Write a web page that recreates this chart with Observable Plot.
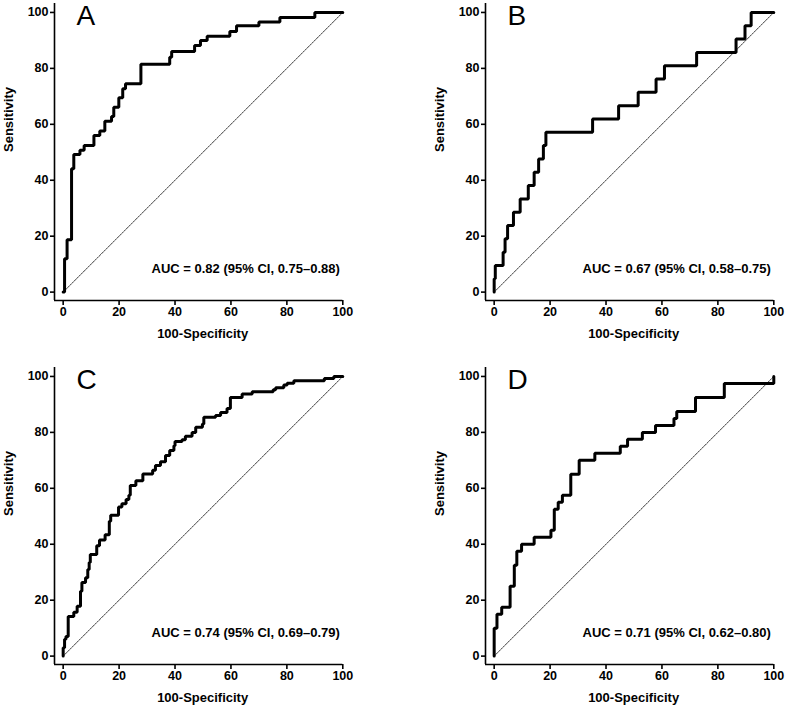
<!DOCTYPE html>
<html>
<head>
<meta charset="utf-8">
<script src="https://cdn.jsdelivr.net/npm/d3@7"></script>
<script src="https://cdn.jsdelivr.net/npm/@observablehq/plot@0.6"></script>
<style>
  body { margin: 0; background: #fff; }
  #wrap { position: relative; width: 787px; height: 707px; overflow: hidden; background: #fff; }
  #wrap svg { position: absolute; }
</style>
</head>
<body>
<div id="wrap"></div>
<script>
// ---- data -------------------------------------------------------------
const panelLetters = ["A", "B", "C", "D"];
const aucLabels = [
  "AUC = 0.82 (95% CI, 0.75\u20130.88)",
  "AUC = 0.67 (95% CI, 0.58\u20130.75)",
  "AUC = 0.74 (95% CI, 0.69\u20130.79)",
  "AUC = 0.71 (95% CI, 0.62\u20130.80)"
];
const xLabel = "100-Specificity";
const yLabel = "Sensitivity";
const xTicks = [0, 20, 40, 60, 80, 100];
const yTicks = [0, 20, 40, 60, 80, 100];
const chanceLine = [0, 100];

// ROC step points: (100-specificity, sensitivity) reached after each rise
const aX = [0, 0.5, 1.4, 3.0, 3.8, 6.0, 7.5, 11.0, 13.1, 14.9, 17.3, 18.1, 19.9, 21.3, 22.3, 27.8, 38.1, 38.8, 47.0, 49.1, 51.5, 59.6, 62.0, 70.0, 77.5, 90.0, 100];
const aY = [0, 11.9, 18.7, 44.1, 49.2, 50.7, 52.4, 56.0, 57.6, 61.1, 62.8, 66.1, 69.5, 72.7, 74.5, 81.5, 84.0, 86.0, 88.2, 90.0, 91.5, 93.2, 95.2, 96.6, 98.2, 100, 100];

const bX = [0, 0, 0.4, 3.2, 3.9, 4.8, 6.9, 9.3, 12.2, 14.3, 15.9, 17.6, 18.5, 35.2, 44.5, 51.5, 57.9, 60.9, 72.4, 86.5, 89.7, 91.9, 100];
const bY = [0, 4.76, 9.52, 14.29, 19.05, 23.81, 28.57, 33.33, 38.10, 42.86, 47.62, 52.38, 57.14, 61.90, 66.67, 71.43, 76.19, 80.95, 85.71, 90.48, 95.24, 100, 100];

const cX = [0, 0, 0.5, 1.0, 1.8, 3.8, 5.0, 6.2, 6.7, 8.0, 8.8, 9.3, 9.7, 12.0, 13.0, 15.0, 16.5, 17.0, 19.8, 21.0, 22.5, 23.5, 24.0, 26.0, 28.5, 32.0, 33.0, 34.8, 36.6, 38.1, 39.6, 40.0, 42.5, 43.7, 46.1, 47.4, 49.8, 50.3, 54.5, 56.3, 58.6, 59.8, 64.0, 67.6, 75.1, 76.0, 78.9, 80.1, 82.5, 93.4, 96.8, 100];
const cY = [0, 3.0, 6.0, 7.0, 14.2, 15.7, 17.8, 23.2, 26.3, 28.0, 31.0, 33.5, 36.3, 39.5, 41.5, 43.4, 48.2, 50.4, 53.3, 54.5, 56.0, 57.5, 61.0, 62.7, 65.1, 66.5, 68.2, 69.5, 71.7, 73.5, 75.2, 76.7, 77.4, 78.6, 80.0, 81.8, 83.0, 85.4, 86.0, 87.1, 88.5, 92.5, 93.7, 94.5, 95.2, 96.0, 96.9, 97.6, 98.5, 99.3, 100, 100];

const dX = [0, 0, 1.0, 2.7, 5.7, 7.2, 8.1, 9.8, 14.3, 20.3, 21.5, 22.9, 24.4, 27.4, 30.4, 36.0, 45.1, 47.7, 53.0, 57.7, 64.3, 65.3, 72.0, 82.3, 100];
const dY = [0, 10, 15, 17.5, 25, 32.5, 37.5, 40, 42.5, 45, 52.5, 55, 57.5, 65, 70, 72.5, 75, 77.5, 80, 82.5, 85, 87.5, 92.5, 97.5, 100];

const seriesX = [aX, bX, cX, dX];
const seriesY = [aY, bY, cY, dY];

// ---- layout ------------------------------------------------------------
const xDomain = [-3.1, 100];
const yDomain = [-3, 103.2];
const panelPos = [[0, 0], [430.6, 0], [0, 363.7], [430.6, 363.7]];

function panel(i) {
  const rows = seriesX[i].map((x, j) => ({x, y: seriesY[i][j]}));
  return Plot.plot({
    width: 390,
    height: 345,
    marginLeft: 54,
    marginRight: 47.7,
    marginTop: 3,
    marginBottom: 45,
    x: {domain: xDomain, axis: null, label: null},
    y: {domain: yDomain, axis: null, label: null},
    style: {
      fontFamily: "'Liberation Sans', Arial, Helvetica, sans-serif",
      fontWeight: "bold",
      fontSize: "12.5px",
      background: "white",
      color: "black",
      overflow: "visible"
    },
    marks: [
      Plot.ruleX([xDomain[0]], {stroke: "black", strokeWidth: 1.6}),
      Plot.ruleY([yDomain[0]], {stroke: "black", strokeWidth: 1.6}),
      Plot.axisX({ticks: xTicks, anchor: "bottom", tickSize: 5, tickPadding: 2, strokeWidth: 1.6, label: null, fontSize: 12.5, fontWeight: "bold", tickFormat: d => String(d)}),
      Plot.axisY({ticks: yTicks, anchor: "left", tickSize: 4, tickPadding: 2, strokeWidth: 1.6, label: null, fontSize: 12.5, fontWeight: "bold", tickFormat: d => String(d)}),
      Plot.line(chanceLine, {x: d => d, y: d => d, stroke: "black", strokeWidth: 0.8, strokeDasharray: "2,1.2"}),
      Plot.line(rows, {x: "x", y: "y", curve: "step-after", stroke: "black", strokeWidth: 3, strokeLinejoin: "miter"}),
      Plot.text([panelLetters[i]], {
        text: d => d, frameAnchor: "top-left", dx: 22, dy: 13,
        textAnchor: "start", lineAnchor: "middle",
        fontSize: 28, fontWeight: "normal", fontFamily: "'Liberation Sans', Arial, sans-serif"
      }),
      Plot.text([aucLabels[i]], {
        text: d => d, frameAnchor: "bottom-right", dx: -3, dy: -32,
        textAnchor: "end", lineAnchor: "middle", fontSize: 13
      }),
      Plot.text([xLabel], {
        text: d => d, frameAnchor: "bottom", dx: 4, dy: 33,
        lineAnchor: "middle", fontSize: 13
      }),
      Plot.text([yLabel], {
        text: d => d, frameAnchor: "left", dx: -45.7, rotate: -90,
        lineAnchor: "middle", fontSize: 13
      })
    ]
  });
}

const wrap = document.getElementById("wrap");
panelLetters.forEach((_, i) => {
  const svg = panel(i);
  svg.style.left = panelPos[i][0] + "px";
  svg.style.top = panelPos[i][1] + "px";
  wrap.appendChild(svg);
});
</script>
</body>
</html>
